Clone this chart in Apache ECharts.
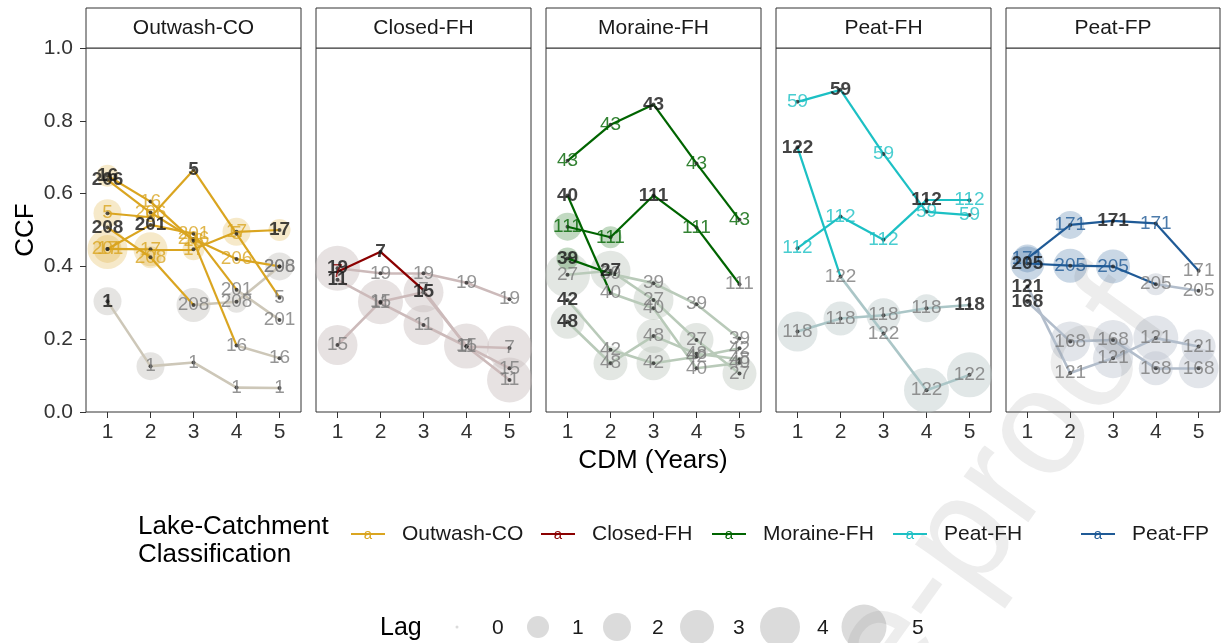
<!DOCTYPE html>
<html><head><meta charset="utf-8">
<script src="https://cdn.jsdelivr.net/npm/echarts@6/dist/echarts.min.js"></script>
<style>html,body{margin:0;padding:0;background:#fff}#c{width:1223px;height:643px}</style>
</head><body><div id="c"></div><script>
// ---------------- DATA ----------------
const classes = ['Outwash-CO','Closed-FH','Moraine-FH','Peat-FH','Peat-FP'];
const cdmYears = [1,2,3,4,5];
const lagLevels = [0,1,2,3,4,5];

const lakes_OutwashCO = ['1','5','16','17','201','206','208'];
const ccf_OutwashCO = [
  [0.304,0.126,0.136,0.067,0.066],
  [0.546,0.535,0.665,0.490,0.314],
  [0.649,0.578,0.470,0.183,0.148],
  [0.448,0.447,0.447,0.495,0.500],
  [0.448,0.514,0.490,0.336,0.253],
  [0.638,0.548,0.475,0.420,0.400],
  [0.507,0.425,0.294,0.303,0.400]];
const lag_OutwashCO = [[2,2,0,0,0],[2,0,0,0,0],[1,0,0,0,0],[2,3,1,2,1],[4,0,0,0,0],[0,0,0,0,0],[0,1,3,1,2]];
const sig_OutwashCO = [[0,0,0,0,0],[1,1,1,1,0],[1,1,1,0,0],[1,1,1,1,1],[1,1,1,0,0],[1,1,1,1,0],[1,1,0,0,0]];

const lakes_ClosedFH = ['7','11','15','19'];
const ccf_ClosedFH = [
  [0.385,0.440,0.335,0.180,0.176],
  [0.363,0.300,0.239,0.180,0.088],
  [0.184,0.303,0.329,0.181,0.120],
  [0.395,0.381,0.381,0.355,0.310]];
const lag_ClosedFH = [[0,0,0,0,5],[0,0,4,0,5],[4,5,4,5,0],[5,0,0,0,0]];
const sig_ClosedFH = [[1,1,0,0,0],[0,0,0,0,0],[0,0,0,0,0],[0,0,0,0,0]];

const lakes_MoraineFH = ['27','39','40','42','43','48','111'];
const ccf_MoraineFH = [
  [0.377,0.388,0.308,0.198,0.106],
  [0.422,0.380,0.354,0.296,0.202],
  [0.595,0.327,0.285,0.120,0.135],
  [0.308,0.171,0.134,0.152,0.175],
  [0.690,0.789,0.845,0.683,0.528],
  [0.248,0.134,0.209,0.160,0.145],
  [0.509,0.480,0.595,0.507,0.351]];
const lag_MoraineFH = [[5,4,4,3,3],[1,0,0,0,0],[0,0,0,0,0],[0,0,3,0,0],[0,0,0,0,0],[3,3,3,0,0],[2,1,0,0,0]];
const sig_MoraineFH = [[0,0,0,0,0],[1,0,0,0,0],[1,0,0,0,0],[0,0,0,0,0],[1,1,1,1,1],[0,0,0,0,0],[1,1,1,1,0]];

const lakes_PeatFH = ['59','112','118','122'];
const ccf_PeatFH = [
  [0.852,0.885,0.709,0.550,0.541],
  [0.450,0.537,0.473,0.582,0.582],
  [0.221,0.257,0.266,0.285,0.294],
  [0.727,0.372,0.216,0.060,0.102]];
const lag_PeatFH = [[0,0,0,0,0],[0,0,0,0,0],[4,3,3,2,0],[0,0,0,5,5]];
const sig_PeatFH = [[1,1,1,1,1],[1,1,1,1,1],[0,0,0,0,0],[1,0,0,0,0]];

const lakes_PeatFP = ['121','168','171','205'];
const ccf_PeatFP = [
  [0.345,0.107,0.148,0.203,0.180],
  [0.303,0.194,0.198,0.120,0.120],
  [0.422,0.514,0.525,0.518,0.388],
  [0.408,0.402,0.400,0.351,0.333]];
const lag_PeatFP = [[0,0,4,5,3],[0,4,4,3,4],[2,2,0,0,0],[3,3,3,1,0]];
const sig_PeatFP = [[0,0,0,0,0],[0,0,0,0,0],[1,1,1,1,0],[1,1,1,0,0]];

// ---------------- STYLE ----------------
const FONT = '"Liberation Sans", Arial, Helvetica, sans-serif';
const classColors = ['#DAA520','#8B0000','#006400','#1CC0C4','#1F5A96'];
const greyLine = ['#cdc7b8','#ccbaba','#b9cab9','#abc6c7','#b2bdcb'];
const greyCircle = ['rgba(196,194,190,0.55)','rgba(200,190,190,0.55)','rgba(192,200,192,0.55)','rgba(186,200,200,0.55)','rgba(188,196,208,0.55)'];
const lagSizes = [3,22,28,34,40,45];
const gridLeft = [86,316,546,776,1006];
const gridW = 215, gridTop = 48, gridH = 364;

function rgba(hex,a){const n=parseInt(hex.slice(1),16);return `rgba(${(n>>16)&255},${(n>>8)&255},${n&255},${a})`;}

const panels = [
  {lakes:lakes_OutwashCO, ccf:ccf_OutwashCO, lag:lag_OutwashCO, sig:sig_OutwashCO},
  {lakes:lakes_ClosedFH, ccf:ccf_ClosedFH, lag:lag_ClosedFH, sig:sig_ClosedFH},
  {lakes:lakes_MoraineFH, ccf:ccf_MoraineFH, lag:lag_MoraineFH, sig:sig_MoraineFH},
  {lakes:lakes_PeatFH, ccf:ccf_PeatFH, lag:lag_PeatFH, sig:sig_PeatFH},
  {lakes:lakes_PeatFP, ccf:ccf_PeatFP, lag:lag_PeatFP, sig:sig_PeatFP}];

const grids=[], xAxes=[], yAxes=[], series=[], graphics=[];

panels.forEach((P,p)=>{
  grids.push({left:gridLeft[p], top:gridTop, width:(p===4?214:gridW), height:gridH, show:true, borderColor:'#333', borderWidth:1});
  xAxes.push({gridIndex:p, type:'value', min:0.5, max:5.5, splitLine:{show:false}, axisLine:{show:false},
    axisTick:{show:true, customValues:cdmYears, length:6, lineStyle:{color:'#333'}},
    axisLabel:{customValues:cdmYears, fontSize:21, color:'#333', margin:10, fontFamily:FONT}});
  yAxes.push({gridIndex:p, type:'value', min:0, max:1, interval:0.2, splitLine:{show:false}, axisLine:{show:false},
    axisTick:{show:p===0, length:6, lineStyle:{color:'#333'}},
    axisLabel:{show:p===0, formatter:v=>v.toFixed(1), fontSize:21, color:'#333', margin:13, fontFamily:FONT}});

  const circ=[], greySeg=[], colSeg=[], dots=[], labs=[], boldLabs=[];
  P.lakes.forEach((id,l)=>{
    const vals=P.ccf[l];
    let mi=0; vals.forEach((v,j)=>{ if(v>vals[mi]) mi=j; });
    cdmYears.forEach((yr,j)=>{
      const s=P.sig[l][j], v=vals[j];
      circ.push({value:[yr,v], symbolSize:lagSizes[P.lag[l][j]], itemStyle:{color: s? rgba(classColors[p],0.3) : greyCircle[p]}});
      dots.push([yr,v]);
      if(j<4){
        const seg={coords:[[yr,v],[cdmYears[j+1],vals[j+1]]]};
        (s?colSeg:greySeg).push(seg);
      }
      if(j===mi) boldLabs.push({name:id, value:[yr,v]});
      else labs.push({name:id, value:[yr,v], label:{color: s? classColors[p] : '#7a7a7a'}});
    });
  });
  const common={xAxisIndex:p, yAxisIndex:p, silent:true, animation:false};
  series.push(Object.assign({type:'scatter', data:circ, z:1, emphasis:{disabled:true}}, common));
  series.push(Object.assign({type:'lines', coordinateSystem:'cartesian2d', data:greySeg, z:2, lineStyle:{color:greyLine[p], width:2.6, opacity:1}}, common));
  series.push(Object.assign({type:'lines', coordinateSystem:'cartesian2d', data:colSeg, z:3, lineStyle:{color:classColors[p], width:2.2, opacity:1}}, common));
  series.push(Object.assign({type:'scatter', data:dots, z:4, symbolSize:4, itemStyle:{color:'#2a2a2a'}}, common));
  series.push(Object.assign({type:'scatter', data:labs, z:5, symbolSize:1, itemStyle:{color:'rgba(0,0,0,0)'},
    label:{show:true, position:'inside', formatter:d=>d.name, fontSize:19, fontFamily:FONT}}, common));
  series.push(Object.assign({type:'scatter', data:boldLabs, z:6, symbolSize:1, itemStyle:{color:'rgba(0,0,0,0)'},
    label:{show:true, position:'inside', formatter:d=>d.name, fontSize:19, fontWeight:'bold', color:'#141414', fontFamily:FONT}}, common));

  // strip
  const w = (p===4?214:gridW);
  graphics.push({type:'rect', shape:{x:gridLeft[p], y:8, width:w, height:40}, style:{fill:'#fff', stroke:'#333', lineWidth:1}, z:10});
  graphics.push({type:'text', x:gridLeft[p]+w/2, y:28, style:{text:classes[p], fontSize:21, fontFamily:FONT, fill:'#1a1a1a', textAlign:'center', textVerticalAlign:'middle'}, z:11});
});

// axis titles
graphics.push({type:'text', x:26, y:230, rotation:Math.PI/2, style:{text:'CCF', fontSize:26, fontFamily:FONT, fill:'#000', textAlign:'center', textVerticalAlign:'middle'}});
graphics.push({type:'text', x:653, y:461, style:{text:'CDM (Years)', fontSize:26, fontFamily:FONT, fill:'#000', textAlign:'center', textVerticalAlign:'middle'}});

// classification legend
graphics.push({type:'text', x:138, y:527, style:{text:'Lake-Catchment', fontSize:26, fontFamily:FONT, fill:'#000', textVerticalAlign:'middle'}});
graphics.push({type:'text', x:138, y:555, style:{text:'Classification', fontSize:26, fontFamily:FONT, fill:'#000', textVerticalAlign:'middle'}});
const legTextX = [402, 592, 763, 944, 1132];
classes.forEach((c,i)=>{
  const kc = legTextX[i]-34;
  graphics.push({type:'line', shape:{x1:kc-17, y1:534, x2:kc+17, y2:534}, style:{stroke:classColors[i], lineWidth:2.2}});
  graphics.push({type:'text', x:kc, y:535, style:{text:'a', fontSize:15, fontFamily:FONT, fill:classColors[i], textAlign:'center', textVerticalAlign:'middle'}});
  graphics.push({type:'text', x:legTextX[i], y:534, style:{text:c, fontSize:21, fontFamily:FONT, fill:'#1a1a1a', textVerticalAlign:'middle'}});
});

// lag legend
graphics.push({type:'text', x:380, y:628, style:{text:'Lag', fontSize:25, fontFamily:FONT, fill:'#000', textVerticalAlign:'middle'}});
const lagKeyX = [457, 538, 617, 697, 780, 864];
const lagTextX = [492, 572, 652, 733, 817, 912];
lagLevels.forEach((lv,i)=>{
  graphics.push({type:'circle', shape:{cx:lagKeyX[i], cy:627, r:lagSizes[lv]/2}, style:{fill:'rgba(190,190,190,0.55)'}});
  graphics.push({type:'text', x:lagTextX[i], y:628, style:{text:String(lv), fontSize:21, fontFamily:FONT, fill:'#1a1a1a', textVerticalAlign:'middle'}});
});

// journal watermark
graphics.push({type:'text', x:1200, y:340, rotation:0.95, z:100, style:{text:'Journal Pre-proof', fontSize:150, fontFamily:FONT, fill:'rgba(110,110,110,0.12)', textAlign:'right', textVerticalAlign:'bottom'}});

const chart = echarts.init(document.getElementById('c'));
chart.setOption({animation:false, backgroundColor:'#fff', grid:grids, xAxis:xAxes, yAxis:yAxes, series:series, graphic:graphics});
</script></body></html>
